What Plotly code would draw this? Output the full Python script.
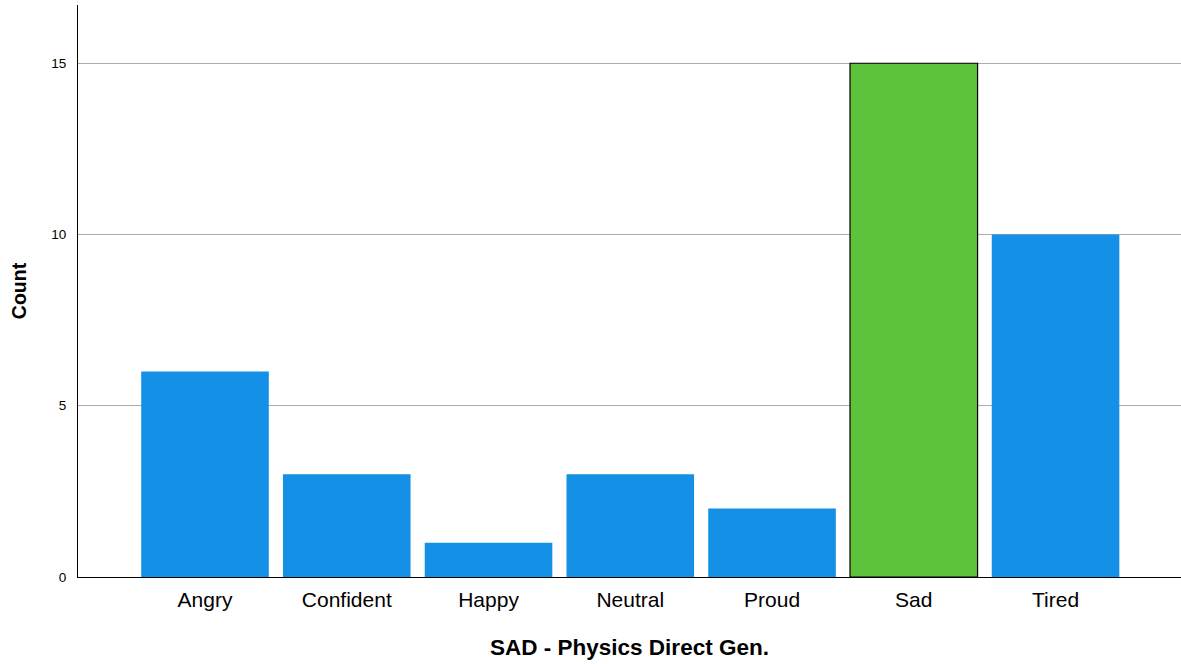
import plotly.graph_objects as go

categories = ["Angry", "Confident", "Happy", "Neutral", "Proud", "Sad", "Tired"]
counts = [6, 3, 1, 3, 2, 15, 10]
highlight = "Sad"

blue = "#1490E6"
green = "#5CC33A"
colors = [green if c == highlight else blue for c in categories]
line_colors = ["#000000" if c == highlight else "rgba(0,0,0,0)" for c in categories]
line_widths = [1.2 if c == highlight else 0 for c in categories]

fig = go.Figure(go.Bar(
    x=categories, y=counts, width=0.9,
    marker=dict(color=colors, line=dict(color=line_colors, width=line_widths)),
))

fig.update_layout(
    width=1181, height=664,
    margin=dict(l=78, r=0, t=5, b=87),
    plot_bgcolor="white", paper_bgcolor="white",
    font=dict(family="Arial, Liberation Sans, sans-serif", color="#000"),
    showlegend=False,
    xaxis=dict(
        range=[-0.896, 6.885], showline=True, linecolor="#000", linewidth=1,
        tickfont=dict(size=21), ticks="", ticklabelstandoff=4,
        title=dict(text="<b>SAD - Physics Direct Gen.</b>", font=dict(size=22.5), standoff=29),
    ),
    yaxis=dict(
        range=[0, 16.7], tickvals=[0, 5, 10, 15], showline=True, linecolor="#000", linewidth=1,
        showgrid=True, gridcolor="#ACACAC", gridwidth=1, zeroline=False,
        tickfont=dict(size=13.5), ticks="", ticklabelstandoff=8,
        title=dict(text="<b>Count</b>", font=dict(size=19.5), standoff=19),
    ),
)

fig.write_html("out.html", config={"displayModeBar": False},
               post_script="document.body.style.margin='0';document.body.style.overflow='hidden';")
